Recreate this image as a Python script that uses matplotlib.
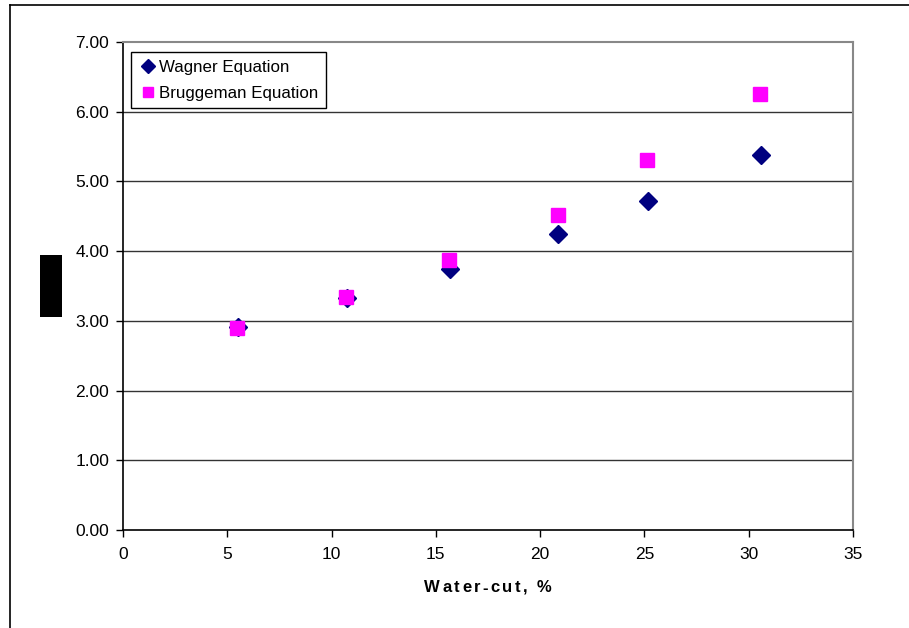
import matplotlib
matplotlib.use("Agg")
import matplotlib.pyplot as plt
from matplotlib.patches import Rectangle
from matplotlib.lines import Line2D

plt.rcParams['font.family'] = ['Liberation Sans', 'DejaVu Sans']

wagner_x = [5.5, 10.75, 15.7, 20.85, 25.15, 30.6]
wagner_y = [2.91, 3.33, 3.74, 4.25, 4.72, 5.38]
brugg_x = [5.45, 10.7, 15.65, 20.85, 25.1, 30.55]
brugg_y = [2.90, 3.34, 3.87, 4.52, 5.31, 6.25]
xticks = [0, 5, 10, 15, 20, 25, 30, 35]
yticks = [0, 1, 2, 3, 4, 5, 6, 7]
ytick_labels = ["0.00", "1.00", "2.00", "3.00", "4.00", "5.00", "6.00", "7.00"]
xlabel_text = "Water-cut, %"

W, H = 909, 628
fig = plt.figure(figsize=(W / 100, H / 100), dpi=100)
ax = fig.add_axes([123 / W, 1 - 530 / H, 730 / W, 488 / H])

ax.set_xlim(0, 35)
ax.set_ylim(0, 7)
ax.set_xticks(xticks)
ax.set_yticks(yticks)
ax.set_yticklabels(ytick_labels)
ax.tick_params(direction='out', length=5, width=1, labelsize=12.5, colors='black')
ax.tick_params(axis='y', pad=5)
ax.tick_params(axis='x', pad=7)

for y in yticks[1:-1]:
    ax.axhline(y, color='#333333', lw=1.0, zorder=1)

for s in ['left', 'bottom']:
    ax.spines[s].set_color('black')
    ax.spines[s].set_linewidth(1.2)
for s in ['top', 'right']:
    ax.spines[s].set_color('#888888')
    ax.spines[s].set_linewidth(1.5)

ax.plot(wagner_x, wagner_y, linestyle='none', marker='D', markersize=9.5,
        color='#000080', markeredgecolor='#000080', zorder=3, label='Wagner Equation')
ax.plot(brugg_x, brugg_y, linestyle='none', marker='s', markersize=9.5,
        color='#FF00FF', markeredgecolor='#FF00FF', zorder=4, label='Bruggeman Equation')

handles = [
    Line2D([], [], linestyle='none', marker='D', markersize=7.5, color='#000080'),
    Line2D([], [], linestyle='none', marker='s', markersize=7.5, color='#FF00FF'),
]
leg = ax.legend(handles, ['Wagner Equation', 'Bruggeman Equation'],
                loc='upper left', bbox_to_anchor=(0.011, 0.9795), borderaxespad=0,
                fancybox=False, framealpha=1, edgecolor='black', fontsize=12.2,
                handletextpad=0.1, handlelength=1.1, borderpad=0.45, labelspacing=0.65)
leg.get_frame().set_linewidth(1.0)

# x-axis label drawn with letter tracking
fig.canvas.draw()
renderer = fig.canvas.get_renderer()
tracking = 2.4
chars = []
total = 0.0
for ch in xlabel_text:
    t = fig.text(0, 0, ch, fontsize=12, fontweight='bold', ha='left', va='center')
    if ch == ' ':
        t.set_text('a')
        w = t.get_window_extent(renderer).width * 0.5
        t.set_text(' ')
    else:
        w = t.get_window_extent(renderer).width
    chars.append((t, w))
    total += w
total += tracking * (len(chars) - 1)
x0 = 488 - total / 2
yc = 1 - 588 / H
for t, w in chars:
    t.set_position((x0 / W, yc))
    x0 += w + tracking

# outer chart frame (left and top edges)
fig.add_artist(Line2D([10 / W, 10 / W], [0, 1 - 5 / H], color='black', lw=1.2, transform=fig.transFigure))
fig.add_artist(Line2D([10 / W, 1], [1 - 5 / H, 1 - 5 / H], color='black', lw=1.2, transform=fig.transFigure))

# redacted y-axis label block
fig.add_artist(Rectangle((40 / W, 1 - 317 / H), 22 / W, 62 / H, facecolor='black',
                         edgecolor='none', transform=fig.transFigure))

fig.savefig('out.png', dpi=100)
